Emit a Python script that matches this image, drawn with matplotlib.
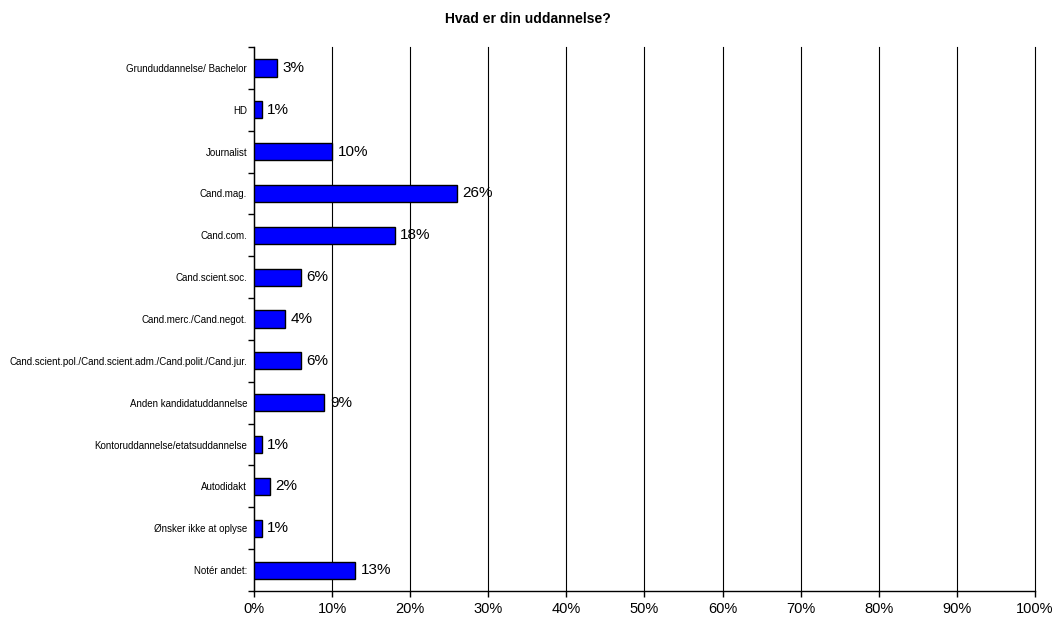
import matplotlib.pyplot as plt
import numpy as np

plt.rcParams['font.family'] = ['Liberation Sans', 'DejaVu Sans']

categories = ["Grunduddannelse/ Bachelor", "HD", "Journalist", "Cand.mag.",
              "Cand.com.", "Cand.scient.soc.", "Cand.merc./Cand.negot.",
              "Cand.scient.pol./Cand.scient.adm./Cand.polit./Cand.jur.",
              "Anden kandidatuddannelse", "Kontoruddannelse/etatsuddannelse",
              "Autodidakt", "Ønsker ikke at oplyse", "Notér andet:"]
values = [3, 1, 10, 26, 18, 6, 4, 6, 9, 1, 2, 1, 13]
xticks = list(range(0, 101, 10))

fig = plt.figure(figsize=(10.56, 6.21), dpi=100)
ax = fig.add_axes([0.2405, 0.0483, 0.7395, 0.876])

y = np.arange(len(categories))
ax.barh(y, values, height=0.41, color='#0000ff', edgecolor='black',
        linewidth=1.0, zorder=3)
for yi, v in zip(y, values):
    ax.annotate(f"{v}%", (v, yi), xytext=(4, 0), textcoords='offset points',
                va='center', ha='left', fontsize=11, zorder=4)

ax.set_xlim(0, 100)
ax.set_ylim(len(categories) - 0.5, -0.5)
ax.set_xticks(xticks)
ax.set_xticklabels([f"{t}%" for t in xticks], fontsize=10.5)
ax.set_yticks(y)
ax.set_yticklabels(categories, fontsize=7)
ax.set_yticks(np.arange(len(categories) + 1) - 0.5, minor=True)
ax.tick_params(axis='y', which='major', length=0, pad=5)
ax.tick_params(axis='y', which='minor', length=4, width=1)
ax.tick_params(axis='x', length=4, width=1, pad=4)
ax.grid(axis='x', color='black', linewidth=0.8, zorder=0)
for gl in ax.get_xgridlines():
    gl.set_clip_on(False)
for s in ['top', 'right']:
    ax.spines[s].set_visible(False)
ax.spines['left'].set_linewidth(1)
ax.spines['bottom'].set_linewidth(1)

fig.text(0.5, 0.97, "Hvad er din uddannelse?", ha='center', va='center',
         fontsize=10, fontweight='bold')

fig.savefig("out.png", dpi=100)
